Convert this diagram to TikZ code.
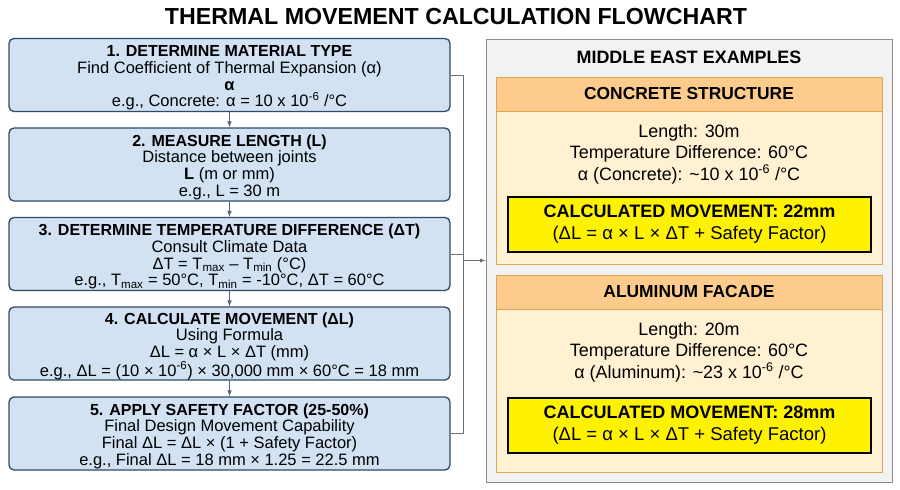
\documentclass[tikz,border=0pt]{standalone}
\usepackage{fontspec}
\setmainfont{Liberation Sans}
\usepackage{tikz}
\usetikzlibrary{arrows,positioning}
\definecolor{stepfill}{HTML}{D2E2F3}
\definecolor{stepline}{HTML}{2F4A66}
\definecolor{flowgray}{HTML}{4F6480}
\definecolor{busgray}{HTML}{707070}
\definecolor{headfill}{HTML}{FDCC8C}
\definecolor{bodyfill}{HTML}{FFF1D2}
\definecolor{panelline}{HTML}{E0A552}
\definecolor{examplefill}{HTML}{F2F2F2}
\definecolor{exampleline}{HTML}{8C8C8C}
\tikzstyle{stepbox}=[draw=stepline, fill=stepfill, line width=1.3pt, rounded corners=5pt, minimum width=441pt, minimum height=73pt, inner sep=0pt, align=center, font=\fontsize{16.5}{16.6}\selectfont]
\tikzstyle{flow}=[-latex, line width=1.1pt, draw=flowgray]
\tikzstyle{bus}=[draw=busgray, line width=0.9pt]
\tikzstyle{headbox}=[draw=panelline, fill=headfill, minimum width=386pt, minimum height=34pt, inner sep=0pt, font=\fontsize{17.4}{19}\selectfont\bfseries]
\tikzstyle{bodybox}=[draw=panelline, fill=bodyfill, minimum width=386pt, inner sep=0pt]
\tikzstyle{bodytext}=[align=center, font=\fontsize{17.9}{21.5}\selectfont]
\tikzstyle{resultbox}=[draw=black, fill=yellow, line width=2pt, minimum width=363pt, minimum height=55pt, inner sep=0pt, align=center, font=\fontsize{18.5}{22}\selectfont]
\newcommand{\steptitle}[1]{{\fontsize{16}{16.6}\selectfont\bfseries\rule{0pt}{17pt}#1}}

\begin{document}
\begin{tikzpicture}[x=1pt,y=-1pt]
	\useasboundingbox[fill=white] (0,0) rectangle (900,490);
	\node[font=\fontsize{23.2}{26}\selectfont\bfseries] (title) at (456,17) {THERMAL MOVEMENT CALCULATION FLOWCHART};
	% calculation steps
	\node[stepbox] (s1) at (229.5,75) {\steptitle{1. DETERMINE MATERIAL TYPE}\\Find Coefficient of Thermal Expansion (α)\\{\bfseries α}\\e.g., Concrete: α = 10 x 10\textsuperscript{-6} /°C};
	\node[stepbox] (s2) at (229.5,164.5) {\steptitle{2. MEASURE LENGTH (L)}\\Distance between joints\\{\bfseries L} (m or mm)\\e.g., L = 30 m};
	\node[stepbox] (s3) at (229.5,254) {\steptitle{3. DETERMINE TEMPERATURE DIFFERENCE (ΔT)}\\Consult Climate Data\\ΔT = T\textsubscript{max} – T\textsubscript{min} (°C)\\e.g., T\textsubscript{max} = 50°C, T\textsubscript{min} = -10°C, ΔT = 60°C};
	\node[stepbox] (s4) at (229.5,343.5) {\steptitle{4. CALCULATE MOVEMENT (ΔL)}\\Using Formula\\ΔL = α × L × ΔT (mm)\\e.g., ΔL = (10 × 10\textsuperscript{-6}) × 30,000 mm × 60°C = 18 mm};
	\node[stepbox] (s5) at (229.5,433.5) {\steptitle{5. APPLY SAFETY FACTOR (25-50\%)}\\Final Design Movement Capability\\Final ΔL = ΔL × (1 + Safety Factor)\\e.g., Final ΔL = 18 mm × 1.25 = 22.5 mm};
	\foreach \a/\b in {s1/s2,s2/s3,s3/s4,s4/s5}
		\draw[flow] (\a) -- (\b);
	% examples
	\node[draw=exampleline, fill=examplefill, line width=1pt, minimum width=406pt, minimum height=443pt] (examples) at (689,260.5) {};
	\node[font=\fontsize{17.9}{19}\selectfont\bfseries] (extitle) at (689,57) {MIDDLE EAST EXAMPLES};
	\node[bodybox, minimum height=153pt] (cbody) at (689,187.5) {};
	\node[headbox] (chead) at (689,94) {CONCRETE STRUCTURE};
	\node[bodytext] (ctext) at (689,154) {Length: 30m\\Temperature Difference: 60°C\\α (Concrete): \textasciitilde10 x 10\textsuperscript{-6} /°C};
	\node[resultbox] (cres) at (689.5,224.5) {{\fontsize{18}{22}\selectfont\bfseries CALCULATED MOVEMENT: 22mm}\\(ΔL = α × L × ΔT + Safety Factor)};
	\node[bodybox, minimum height=163pt] (abody) at (689,390.5) {};
	\node[headbox] (ahead) at (689,292) {ALUMINUM FACADE};
	\node[bodytext] (atext) at (689,352) {Length: 20m\\Temperature Difference: 60°C\\α (Aluminum): \textasciitilde23 x 10\textsuperscript{-6} /°C};
	\node[resultbox] (ares) at (689.5,425) {{\fontsize{18}{22}\selectfont\bfseries CALCULATED MOVEMENT: 28mm}\\(ΔL = α × L × ΔT + Safety Factor)};
	% collecting line
	\draw[bus] (s1.east) -- ++(13,0) coordinate (bustop) |- (s5.east);
	\draw[bus] (s3.east) -- (s3.east -| bustop);
	\coordinate (busout) at (bustop |- examples.west);
	\draw[-latex, draw=busgray, line width=0.9pt] (busout) -- (examples.west);
\end{tikzpicture}
\end{document}
